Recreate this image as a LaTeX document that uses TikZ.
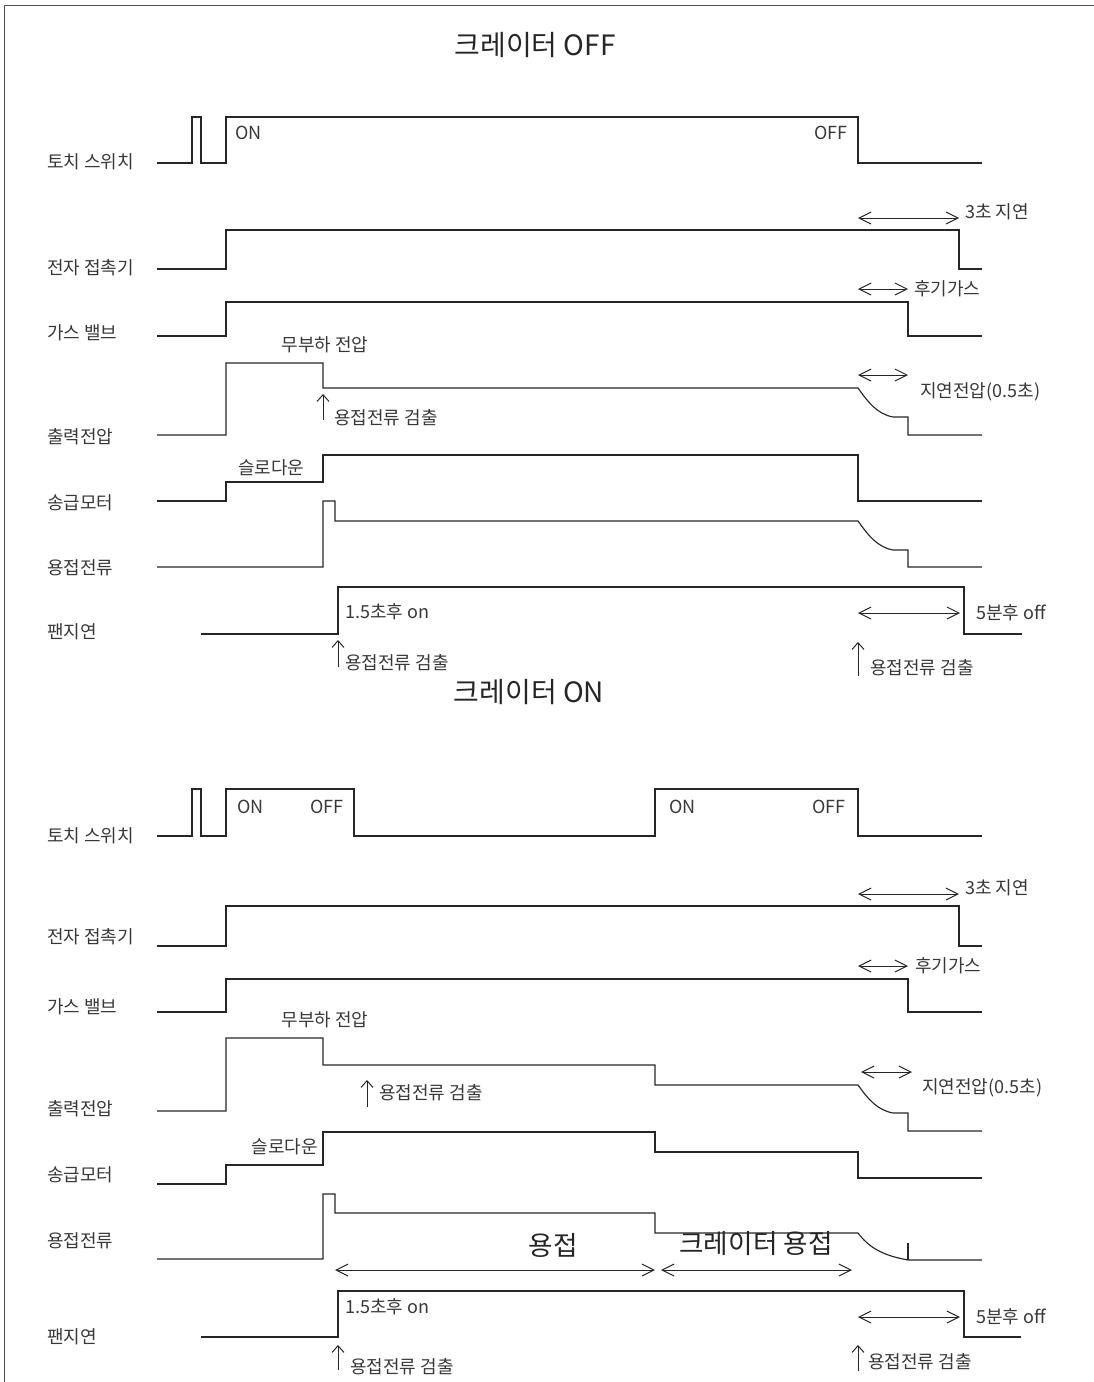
\documentclass[tikz,border=0pt]{standalone}
\usepackage{fontspec}
\setmainfont{Noto Sans CJK KR}
\usetikzlibrary{arrows.meta}
\begin{document}
\begin{tikzpicture}[x=0.75pt,y=-0.75pt,
  sig/.style={line width=0.85pt, draw=black!85, line join=miter},
  dbl/.style={line width=0.75pt, draw=black!85, {Straight Barb[length=9pt,width=9pt]}-{Straight Barb[length=9pt,width=9pt]}},
  upar/.style={line width=0.75pt, draw=black!85, -{Straight Barb[length=5pt,width=9pt]}},
  lbl/.style={font=\fontsize{13.5}{14}\selectfont, text=black!78, inner sep=0pt, anchor=west},
  lble/.style={lbl, anchor=east},
  lblc/.style={lbl, anchor=center},
  ttl/.style={font=\fontsize{21}{22}\selectfont, text=black!85, inner sep=0pt},
  big/.style={font=\fontsize{20}{21}\selectfont, text=black!85, inner sep=0pt}
]
\useasboundingbox (0,0) rectangle (1094,1382);
\draw[line width=0.75pt, black!70] (4,1382) -- (4,5) -- (1094,5);

% ================= TOP: crater OFF =================
\node[ttl] (t1) at (535,45) {크레이터 OFF};

\node[lbl] (a1) at (47,162) {토치 스위치};
\node[lbl] (a2) at (47,268) {전자 접촉기};
\node[lbl] (a3) at (47,333) {가스 밸브};
\node[lbl] (a4) at (47,437) {출력전압};
\node[lbl] (a5) at (47,503) {송급모터};
\node[lbl] (a6) at (47,568) {용접전류};
\node[lbl] (a7) at (47,632) {팬지연};

% torch switch
\draw[sig] (157,163) -- (192,163) -- (192,117) -- (201,117) -- (201,163) -- (226,163) -- (226,117) -- (858,117) -- (858,163) -- (982,163);
\node[lbl] (on1) at (235,133) {ON};
\node[lble] (off1) at (848,133) {OFF};

% contactor
\draw[sig] (157,269) -- (226,269) -- (226,230) -- (959,230) -- (959,269) -- (982,269);
\coordinate (d1a) at (858,218); \coordinate (d1b) at (959,218);
\draw[dbl] (d1a) -- (d1b);
\node[lbl] (l3s) at (965,212) {3초 지연};

% gas valve
\draw[sig] (157,336) -- (226,336) -- (226,302) -- (908,302) -- (908,336) -- (982,336);
\coordinate (d2a) at (858,289); \coordinate (d2b) at (908,289);
\draw[dbl] (d2a) -- (d2b);
\node[lbl] (lhg) at (914,289) {후기가스};

% output voltage
\draw[sig] (157,435) -- (226,435) -- (226,363) -- (323,363) -- (323,388) -- (858,388)
  .. controls (868,402) and (877,414) .. (893,417) -- (908,417) -- (908,435) -- (982,435);
\node[lblc] (nlv) at (325,345) {무부하 전압};
\coordinate (u1a) at (323,420); \coordinate (u1b) at (323,394);
\draw[upar] (u1a) -- (u1b);
\node[lbl] (det1) at (334,418) {용접전류 검출};
\coordinate (d3a) at (858,375); \coordinate (d3b) at (908,375);
\draw[dbl] (d3a) -- (d3b);
\node[lbl] (ldv) at (920,392) {지연전압(0.5초)};

% wire feed motor
\draw[sig] (157,501) -- (226,501) -- (226,482) -- (323,482) -- (323,455) -- (858,455) -- (858,501) -- (982,501);
\node[lbl] (sd1) at (238,468) {슬로다운};

% welding current
\draw[sig] (157,567) -- (323,567) -- (323,501) -- (335,501) -- (335,521) -- (858,521)
  .. controls (868,535) and (877,547) .. (893,550) -- (908,550) -- (908,567) -- (982,567);

% fan delay
\draw[sig] (201,634) -- (338,634) -- (338,587) -- (964,587) -- (964,634) -- (1022,634);
\node[lbl] (f15a) at (345,612) {1.5초후 on};
\coordinate (u2a) at (338,667); \coordinate (u2b) at (338,640);
\draw[upar] (u2a) -- (u2b);
\node[lbl] (det2) at (345,663) {용접전류 검출};
\coordinate (d4a) at (858,613); \coordinate (d4b) at (960,613);
\draw[dbl] (d4a) -- (d4b);
\node[lbl] (f5a) at (976,613) {5분후 off};
\coordinate (u3a) at (858,676); \coordinate (u3b) at (858,642);
\draw[upar] (u3a) -- (u3b);
\node[lbl] (det3) at (870,668) {용접전류 검출};

% ================= BOTTOM: crater ON =================
\node[ttl] (t2) at (529,692) {크레이터 ON};

\node[lbl] (b1) at (47,836) {토치 스위치};
\node[lbl] (b2) at (47,937) {전자 접촉기};
\node[lbl] (b3) at (47,1007) {가스 밸브};
\node[lbl] (b4) at (47,1109) {출력전압};
\node[lbl] (b5) at (47,1175) {송급모터};
\node[lbl] (b6) at (47,1241) {용접전류};
\node[lbl] (b7) at (47,1337) {팬지연};

% torch switch
\draw[sig] (157,836) -- (192,836) -- (192,789) -- (201,789) -- (201,836) -- (226,836) -- (226,789) -- (354,789) -- (354,836) -- (655,836) -- (655,789) -- (858,789) -- (858,836) -- (982,836);
\node[lbl] (on2) at (237,807) {ON};
\node[lble] (off2) at (344,807) {OFF};
\node[lbl] (on3) at (669,807) {ON};
\node[lble] (off3) at (846,807) {OFF};

% contactor
\draw[sig] (157,946) -- (226,946) -- (226,906) -- (959,906) -- (959,946) -- (982,946);
\coordinate (e1a) at (858,894); \coordinate (e1b) at (959,894);
\draw[dbl] (e1a) -- (e1b);
\node[lbl] (m3s) at (965,888) {3초 지연};

% gas valve
\draw[sig] (157,1012) -- (226,1012) -- (226,979) -- (908,979) -- (908,1012) -- (982,1012);
\coordinate (e2a) at (858,966); \coordinate (e2b) at (908,966);
\draw[dbl] (e2a) -- (e2b);
\node[lbl] (mhg) at (915,966) {후기가스};

% output voltage
\draw[sig] (157,1111) -- (226,1111) -- (226,1038) -- (323,1038) -- (323,1065) -- (655,1065) -- (655,1085) -- (858,1085)
  .. controls (868,1099) and (877,1110) .. (893,1113) -- (908,1113) -- (908,1131) -- (982,1131);
\node[lblc] (nlv2) at (325,1020) {무부하 전압};
\coordinate (v1a) at (367,1107); \coordinate (v1b) at (367,1080);
\draw[upar] (v1a) -- (v1b);
\node[lbl] (det4) at (379,1093) {용접전류 검출};
\coordinate (e3a) at (861,1072); \coordinate (e3b) at (912,1072);
\draw[dbl] (e3a) -- (e3b);
\node[lbl] (mdv) at (922,1088) {지연전압(0.5초)};

% wire feed motor
\draw[sig] (157,1184) -- (226,1184) -- (226,1165) -- (323,1165) -- (323,1132) -- (655,1132) -- (655,1152) -- (858,1152) -- (858,1178) -- (982,1178);
\node[lble] (sd2) at (318,1147) {슬로다운};

% welding current
\draw[sig] (157,1259) -- (323,1259) -- (323,1194) -- (335,1194) -- (335,1213) -- (655,1213) -- (655,1233) -- (858,1233)
  .. controls (868,1246) and (880,1255) .. (908,1260) -- (982,1260);
\draw[sig] (908,1243) -- (908,1260);
\node[big] (wld) at (553,1245) {용접};
\node[big] (cwld) at (756,1244) {크레이터 용접};
\coordinate (w1a) at (335,1270); \coordinate (w1b) at (655,1270);
\coordinate (w2a) at (661,1270); \coordinate (w2b) at (852,1270);
\draw[dbl] (w1a) -- (w1b);
\draw[dbl] (w2a) -- (w2b);

% fan delay
\draw[sig] (201,1337) -- (338,1337) -- (338,1291) -- (964,1291) -- (964,1337) -- (1021,1337);
\node[lbl] (f15b) at (345,1307) {1.5초후 on};
\coordinate (v2a) at (338,1370); \coordinate (v2b) at (338,1345);
\draw[upar] (v2a) -- (v2b);
\node[lbl] (det5) at (350,1367) {용접전류 검출};
\coordinate (e4a) at (858,1317); \coordinate (e4b) at (960,1317);
\draw[dbl] (e4a) -- (e4b);
\node[lbl] (f5b) at (976,1317) {5분후 off};
\coordinate (v3a) at (858,1371); \coordinate (v3b) at (858,1345);
\draw[upar] (v3a) -- (v3b);
\node[lbl] (det6) at (868,1362) {용접전류 검출};
\end{tikzpicture}
\end{document}
